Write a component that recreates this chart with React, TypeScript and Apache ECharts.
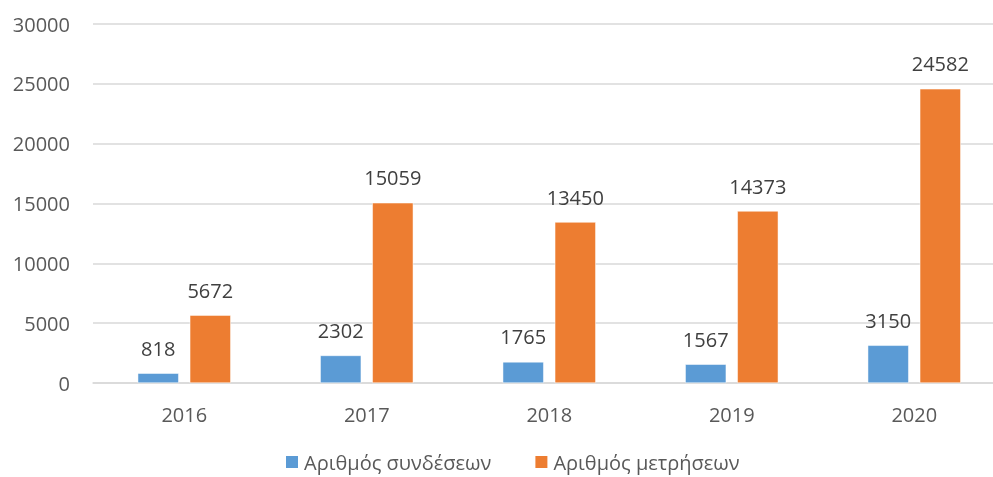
import React, { useEffect, useRef } from "react";
import * as echarts from "echarts";

const categories = ["2016", "2017", "2018", "2019", "2020"];
const connections = [818, 2302, 1765, 1567, 3150];
const measurements = [5672, 15059, 13450, 14373, 24582];
const seriesNames = ["Αριθμός συνδέσεων", "Αριθμός μετρήσεων"];

export default function App() {
  const ref = useRef<HTMLDivElement>(null);
  useEffect(() => {
    const chart = echarts.init(ref.current!, null, { renderer: "svg" });
    const font = "Open Sans";
    chart.setOption({
      animation: false,
      textStyle: { fontFamily: font },
      grid: { left: 93, top: 24, width: 912.5, height: 359, outerBoundsMode: "none" },
      legend: {
        left: 284,
        top: 452,
        padding: 0,
        icon: "rect",
        itemWidth: 14,
        itemHeight: 14,
        itemGap: 42,
        textStyle: { fontFamily: font, fontSize: 20, lineHeight: 20, color: "#595959" },
        data: seriesNames,
      },
      xAxis: {
        type: "category",
        data: categories,
        axisLine: { show: true, lineStyle: { color: "#D9D9D9", width: 1.5 } },
        axisTick: { show: false },
        axisLabel: { fontFamily: font, fontSize: 20, color: "#595959", margin: 21 },
      },
      yAxis: {
        type: "value",
        min: 0,
        max: 30000,
        interval: 5000,
        axisLine: { show: false },
        axisTick: { show: false },
        splitLine: { lineStyle: { color: "#D9D9D9", width: 1.5 } },
        axisLabel: {
          fontFamily: font,
          fontSize: 20,
          color: "#595959",
          margin: 23,
          formatter: (v: number) => String(v),
        },
      },
      series: [
        {
          name: seriesNames[0],
          type: "bar",
          data: connections,
          barWidth: 41,
          barGap: "27%",
          itemStyle: { color: "#5B9BD5", borderColor: "#ffffff", borderWidth: 0.5 },
          label: { show: true, position: "top", distance: 15, fontFamily: font, fontSize: 20, color: "#404040" },
        },
        {
          name: seriesNames[1],
          type: "bar",
          data: measurements,
          barWidth: 41,
          barGap: "27%",
          itemStyle: { color: "#ED7D31", borderColor: "#ffffff", borderWidth: 0.5 },
          label: { show: true, position: "top", distance: 15, fontFamily: font, fontSize: 20, color: "#404040" },
        },
      ],
    });
    return () => chart.dispose();
  }, []);
  return <div ref={ref} style={{ position: "fixed", left: 0, top: 0, width: 993, height: 477 }} />;
}
